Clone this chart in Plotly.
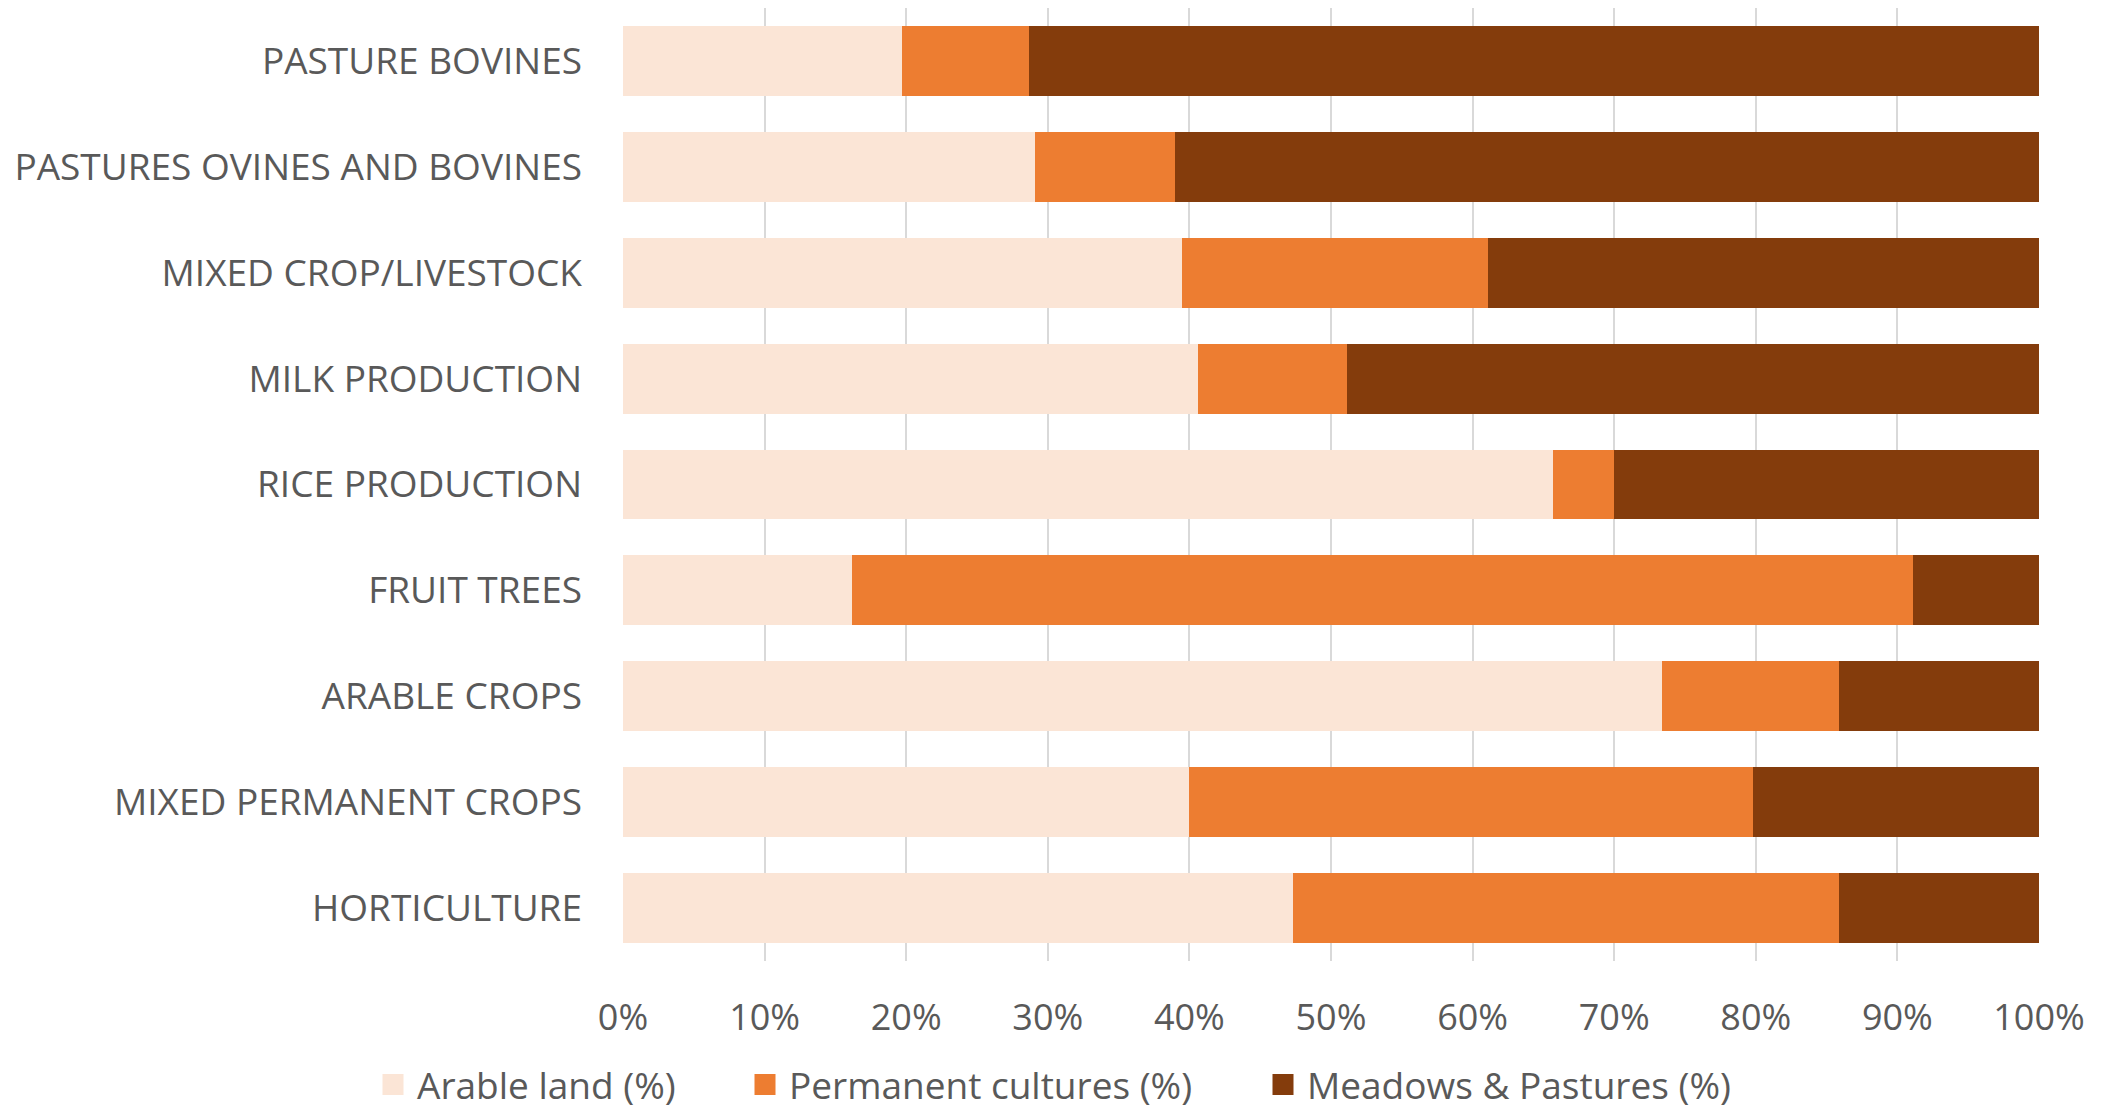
import plotly.graph_objects as go

categories = [
    "PASTURE BOVINES",
    "PASTURES OVINES AND BOVINES",
    "MIXED CROP/LIVESTOCK",
    "MILK PRODUCTION",
    "RICE PRODUCTION",
    "FRUIT TREES",
    "ARABLE CROPS",
    "MIXED PERMANENT CROPS",
    "HORTICULTURE",
]
arable = [19.7, 29.1, 39.5, 40.6, 65.7, 16.2, 73.4, 40.0, 47.3]
permanent = [9.0, 9.9, 21.6, 10.5, 4.3, 74.9, 12.5, 39.8, 38.6]
meadows = [71.3, 61.0, 38.9, 48.9, 30.0, 8.9, 14.1, 20.2, 14.1]

series_names = ["Arable land (%)", "Permanent cultures (%)", "Meadows & Pastures (%)"]
series_colors = ["#FBE5D6", "#ED7D31", "#843C0C"]

FONT = "Open Sans"
GRAY = "#595959"
W, H = 2101, 1105

fig = go.Figure()
legend_ids = ["legend", "legend2", "legend3"]
for name, vals, col in zip(series_names, [arable, permanent, meadows], series_colors):
    fig.add_trace(go.Bar(
        y=categories, x=vals, name=name, orientation="h",
        marker=dict(color=col, line=dict(width=0)),
        showlegend=False,
    ))

# legend entries with larger square swatches
for name, col, lg in zip(series_names, series_colors, legend_ids):
    fig.add_trace(go.Scatter(
        x=[None], y=[None], mode="markers", name=name,
        marker=dict(symbol="square", size=24, color=col, line=dict(width=5, color=col)),
        legend=lg, showlegend=True, hoverinfo="skip",
    ))

# legend text start positions (px, figure coords)
legend_text_x = [411, 783, 1301]
legend_y = 1 - 1077 / H
ITEMW = 38

def legend_cfg(xpx):
    return dict(
        orientation="h", xref="container", x=(xpx - (ITEMW + 10) - 2) / W, xanchor="left",
        yref="container", y=legend_y, yanchor="middle",
        font=dict(size=37, color=GRAY, family=FONT),
        bgcolor="rgba(0,0,0,0)", borderwidth=0,
        itemwidth=ITEMW, itemsizing="trace",
    )

fig.update_layout(
    barmode="stack",
    barnorm="percent",
    bargap=0.34,
    width=W, height=H,
    margin=dict(l=615, r=70, t=0, b=152),
    paper_bgcolor="white", plot_bgcolor="white",
    font=dict(family=FONT, color=GRAY, size=34),
    legend=legend_cfg(legend_text_x[0]),
    legend2=legend_cfg(legend_text_x[1]),
    legend3=legend_cfg(legend_text_x[2]),
    showlegend=True,
)
fig.update_xaxes(
    range=[0, 100], dtick=10, ticksuffix="%",
    showgrid=True, gridcolor="#D9D9D9", gridwidth=2,
    zeroline=False, showline=False,
    tickfont=dict(size=36, color=GRAY), ticklabelstandoff=32,
)
fig.update_yaxes(
    autorange="reversed", showgrid=False, showline=False,
    tickfont=dict(size=37, color=GRAY), ticklabelstandoff=40,
)

fig.write_html("out.html")
